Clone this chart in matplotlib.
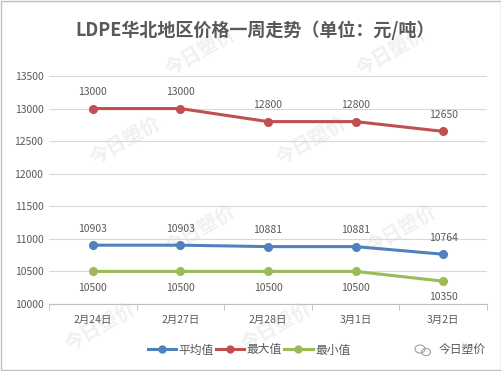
import matplotlib
matplotlib.use("Agg")
import matplotlib.pyplot as plt
from matplotlib.lines import Line2D
from matplotlib.patches import Ellipse
import numpy as np

plt.rcParams['font.family'] = ['Noto Sans CJK SC', 'DejaVu Sans']

categories = ["2月24日", "2月27日", "2月28日", "3月1日", "3月2日"]
avg_vals = [10903, 10903, 10881, 10881, 10764]
max_vals = [13000, 13000, 12800, 12800, 12650]
min_vals = [10500, 10500, 10500, 10500, 10350]
series_names = ["平均值", "最大值", "最小值"]
yticks = [10000, 10500, 11000, 11500, 12000, 12500, 13000, 13500]
title = "LDPE华北地区价格一周走势（单位：元/吨）"

c_avg = "#4F81BD"
c_max = "#C0504D"
c_min = "#9BBB59"
txt = "#595959"

fig = plt.figure(figsize=(5.02, 3.71), dpi=100)

# background watermark layer
bg = fig.add_axes([0, 0, 1, 1], zorder=-5)
bg.set_axis_off()
bg.set_xlim(0, 1)
bg.set_ylim(0, 1)
for (wx, wy) in [(0.40, 0.86), (0.78, 0.86),
                 (0.25, 0.62), (0.62, 0.62),
                 (0.40, 0.38), (0.80, 0.38),
                 (0.20, 0.12), (0.55, 0.12)]:
    bg.text(wx, wy, "今日塑价", rotation=30, fontsize=14, color="#F0F0F0",
            ha="center", va="center", fontweight="bold")

ax = fig.add_axes([49/502, 1-304/371, (487-49)/502, (304-76)/371])
ax.set_facecolor("none")

x = np.arange(len(categories))
for vals, col, name, off, va in [(avg_vals, c_avg, series_names[0], 8, "bottom"),
                                 (max_vals, c_max, series_names[1], 8, "bottom"),
                                 (min_vals, c_min, series_names[2], -8, "top")]:
    ax.plot(x, vals, color=col, lw=2.2, marker="o", ms=5.5, label=name, zorder=3,
            solid_capstyle="round")
    for xi, v in zip(x, vals):
        ax.annotate(f"{v}", (xi, v), xytext=(0, off), textcoords="offset points",
                    ha="center", va=va, fontsize=7.5, color=txt)

ax.set_xlim(-0.5, len(categories) - 0.5)
ax.set_ylim(10000, 13500)
ax.set_yticks(yticks)
ax.set_yticklabels([str(t) for t in yticks], fontsize=7.5, color=txt)
ax.set_xticks(x)
ax.set_xticklabels(categories, fontsize=7.5, color=txt)
ax.set_xticks(np.arange(-0.5, len(categories), 1.0), minor=True)
ax.tick_params(axis="x", which="major", length=0, pad=8)
ax.tick_params(axis="x", which="minor", length=4, color="#BFBFBF", direction="out")
ax.tick_params(axis="y", length=0, pad=4)
ax.grid(axis="y", color="#D9D9D9", lw=0.8)
ax.set_axisbelow(True)
for s in ["top", "right", "left"]:
    ax.spines[s].set_visible(False)
ax.spines["bottom"].set_color("#BFBFBF")

fig.text(255/502, 1-30/371, title, ha="center", va="center", fontsize=13,
         fontweight="bold", color=txt)

handles = [Line2D([0], [0], color=c, lw=2.2, marker="o", ms=5) for c in (c_avg, c_max, c_min)]
fig.legend(handles, series_names, loc="center", bbox_to_anchor=(249/502, 1-350/371),
           ncol=3, frameon=False, fontsize=8.5, labelcolor=txt, handlelength=2.4,
           handletextpad=0.2, columnspacing=0.2, borderpad=0)
fig.text(462/502, 1-350/371, "今日塑价", ha="center", va="center", fontsize=8.5, color=txt)
for (ex, ey, w) in [(420, 349, 10), (426, 352, 9)]:
    bg.add_patch(Ellipse((ex/502, 1-ey/371), w/502, (w*0.8)/371, fill=False,
                         ec="#A0A0A0", lw=0.8))

border = plt.Rectangle((0.002, 0.003), 0.996, 0.994, transform=fig.transFigure,
                       fill=False, ec="#BFBFBF", lw=1)
fig.patches.append(border)

fig.savefig("out.png", dpi=100)
